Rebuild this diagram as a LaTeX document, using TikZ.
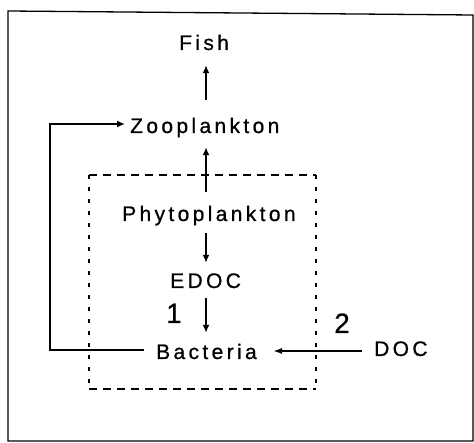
\documentclass[tikz,border=0pt]{standalone}
\usepackage{fontspec}
\usetikzlibrary{arrows.meta}
\newfontfamily\lsfont{Liberation Sans}[LetterSpace=16,FakeBold=0.8]
\newfontfamily\numfont{Liberation Sans}[FakeBold=0.6]
\tikzset{
  lbl/.style={anchor=base west, inner sep=0pt, text height=14pt, text depth=4pt, font=\lsfont\fontsize{21}{24}\selectfont},
  numlbl/.style={anchor=base west, inner sep=0pt, font=\numfont\fontsize{28}{30}\selectfont},
  arr/.style={line width=2.3pt, -{Latex[length=8pt,width=7pt]}},
  thinarr/.style={line width=1.6pt, -{Latex[length=9pt,width=6pt]}},
  frame/.style={line width=1.3pt},
  dbox/.style={line width=1.3pt}
}
\begin{document}
\begin{tikzpicture}[x=1pt,y=-1pt]
\useasboundingbox (0,0) rectangle (474,443);
\draw[frame] (8,11) -- (473,15) -- (473,441) -- (8,441) -- cycle;
% dashed box
\coordinate (b1) at (89,175);
\coordinate (b2) at (316,175);
\coordinate (b3) at (316,389);
\coordinate (b4) at (89,389);
\draw[dbox, dash pattern=on 8pt off 6pt] (b1) -- (b2);
\draw[dbox, dash pattern=on 8pt off 6pt] (b4) -- (b3);
\draw[dbox, dash pattern=on 4pt off 8pt] (b1) -- (b4);
\draw[dbox, dash pattern=on 4pt off 8pt] (b2) -- (b3);
% nodes
\node[lbl] (fish) at (179,50) {Fish};
\node[lbl] (zoo) at (130,133) {Zooplankton};
\node[lbl] (phyto) at (122,221) {Phytoplankton};
\node[lbl] (edoc) at (170,288) {EDOC};
\node[lbl] (bact) at (156,359) {Bacteria};
\node[lbl] (doc) at (374,356) {DOC};
\node[numlbl] (n1) at (166,323) {1};
\node[numlbl] (n2) at (334,333) {2};
\coordinate (ax) at (206,0);
% arrows
\draw[arr, shorten <=19pt, shorten >=11pt] (zoo.north -| ax) -- (fish.south -| ax);
\draw[arr, shorten <=15pt, shorten >=10pt] (phyto.north -| ax) -- (zoo.south -| ax);
\draw[arr, shorten <=8pt, shorten >=11pt] (phyto.south -| ax) -- (edoc.north -| ax);
\draw[arr, shorten <=6pt, shorten >=12pt] (edoc.south -| ax) -- (bact.north -| ax);
\draw[thinarr, shorten <=12pt] (doc.west) -- ([xshift=117pt]bact.west |- doc.west);
\draw[arr, line width=1.9pt] ([shift={(-12,-4)}]bact.west) -- ++(-94,0) |- ([shift={(-5,-4)}]zoo.west);
\end{tikzpicture}
\end{document}
